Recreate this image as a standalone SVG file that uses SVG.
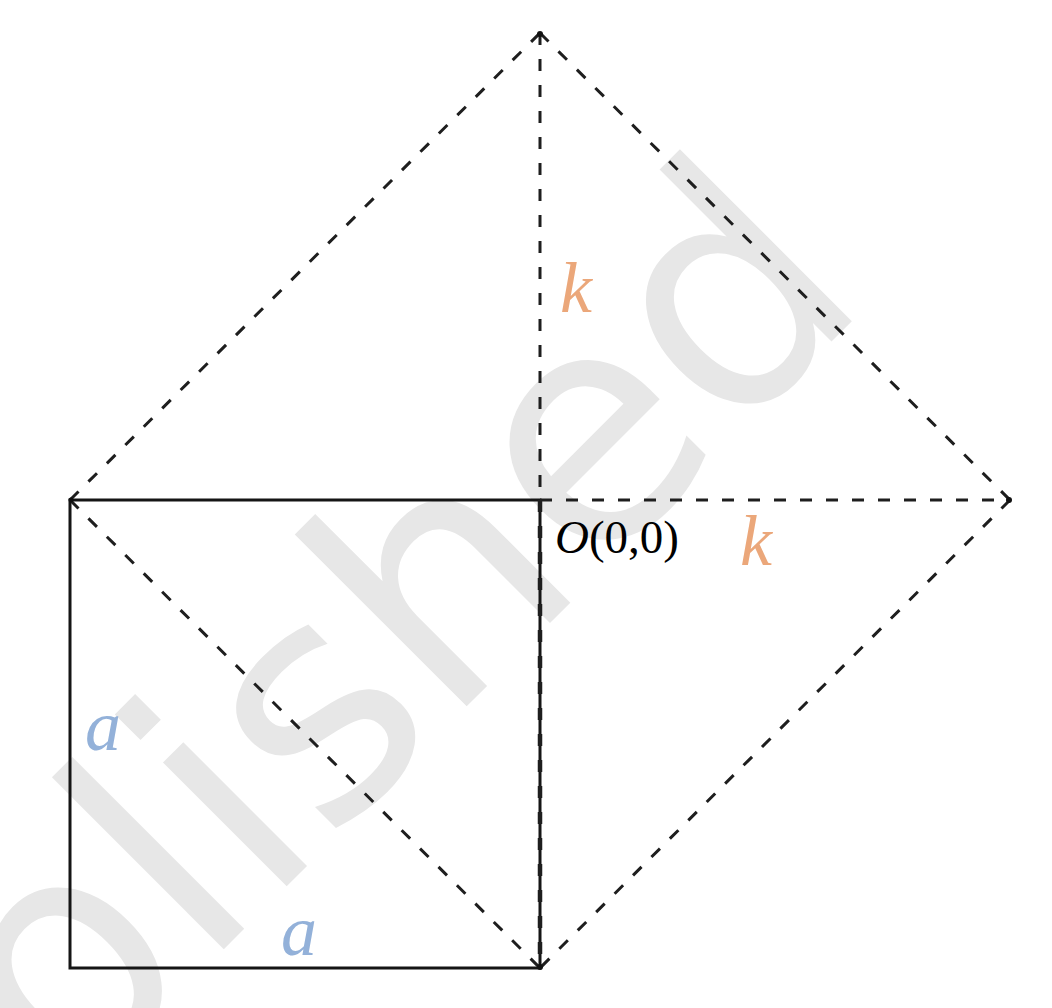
<svg xmlns="http://www.w3.org/2000/svg" width="1052" height="1008" viewBox="0 0 1052 1008">
<style>
.dash{fill:none;stroke:#1e1e1e;stroke-width:3;stroke-dasharray:12 14}
.solid{fill:none;stroke:#151515;stroke-width:3}
.dot{fill:#111}
.lbl{font-family:"Liberation Serif","Times New Roman",serif;font-style:italic;font-size:72px}
.k{fill:#EBA77A}
.a{fill:#93B1D9}
</style>
<rect width="1052" height="1008" fill="#fff"/>
<text x="0" y="0" transform="translate(-217 1390) rotate(-45)" font-family="DejaVu Sans,sans-serif" font-size="320" fill="#e7e7e7">Published</text>
<g id="square">
<path class="solid" d="M70 500 H540 V968 H70 Z"/>
</g>
<g id="connectors">
<path class="dash" d="M70 500 L540 33"/>
<path class="dash" d="M540 33 L1010 500"/>
<path class="dash" d="M1010 500 L540 968"/>
<path class="dash" d="M540 33 V500"/>
<path class="dash" d="M540 500 H1010"/>
<path class="dash" d="M70 500 L540 968"/>
<path class="dash" style="stroke-width:4.5" d="M540 500 V968"/>
<circle class="dot" cx="540" cy="34" r="3"/>
<circle class="dot" cx="1009" cy="500" r="3"/>
<circle class="dot" cx="71" cy="500" r="2.5"/>
<circle class="dot" cx="540" cy="967" r="3"/>
</g>
<g id="labels">
<text class="lbl k" x="560" y="312">k</text>
<text class="lbl k" x="740" y="565">k</text>
<text class="lbl a" x="85" y="750">a</text>
<text class="lbl a" x="281" y="955">a</text>
<text x="555" y="553" font-family="Liberation Serif,Times New Roman,serif" font-size="47" fill="#000"><tspan font-style="italic">O</tspan>(0,0)</text>
</g>
</svg>
